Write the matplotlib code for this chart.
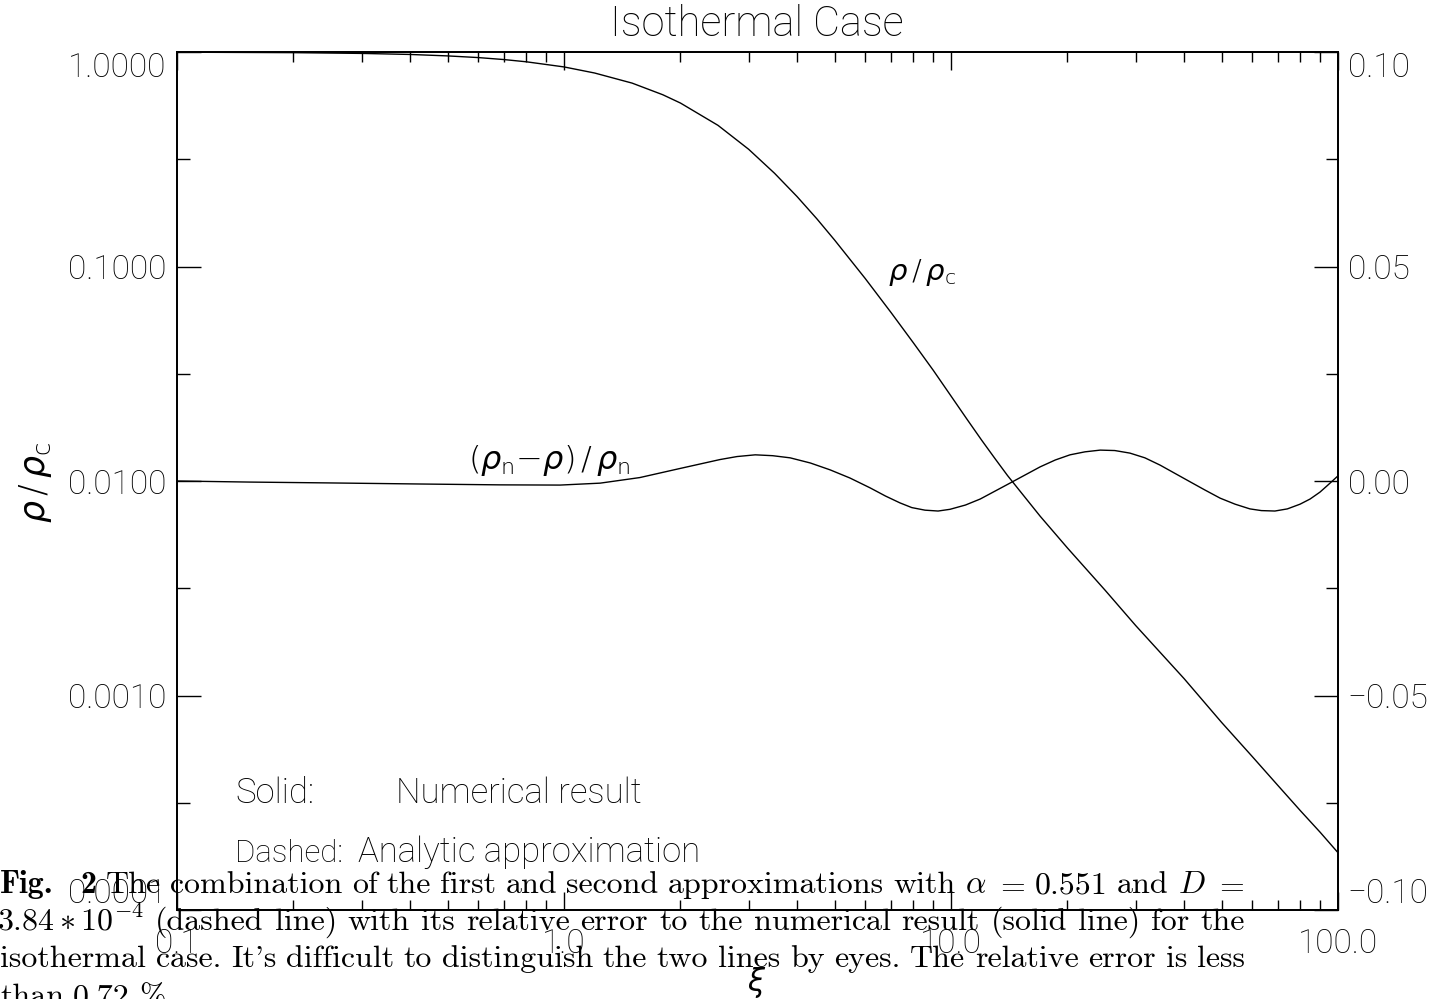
import numpy as np
import matplotlib
matplotlib.use('Agg')
import matplotlib.pyplot as plt
from matplotlib.ticker import FixedLocator, NullFormatter

# density profile rho/rho_c
xi_rho = [0.1, 0.2, 0.3, 0.4, 0.5, 0.6, 0.7, 0.8, 1.0, 1.2, 1.5, 1.8, 2.0, 2.5,
          3.0, 3.5, 4.0, 4.5, 5.0, 6.0, 7.0, 8.0, 9.0, 10.0, 11.0, 12.0, 13.0,
          14.0, 17.0, 20.0, 25.0, 30.0, 40.0, 50.0, 60.0, 70.0, 80.0, 90.0, 100.0]
rho = [0.998, 0.993, 0.985, 0.974, 0.959, 0.942, 0.922, 0.900, 0.852, 0.798,
       0.716, 0.632, 0.578, 0.455, 0.352, 0.272, 0.212, 0.167, 0.133, 0.088,
       0.061, 0.044, 0.0328, 0.0249, 0.0194, 0.0155, 0.0127, 0.0106, 0.00685,
       0.00487, 0.0031, 0.00212, 0.00120, 0.00075, 0.00052, 0.00038, 0.00029,
       0.00023, 0.000185]

# relative error (rho_n - rho)/rho_n, right axis
xi_err = [0.1, 0.154, 0.248, 0.425, 0.683, 0.977, 1.24, 1.57, 1.99, 2.53, 2.80,
          3.12, 3.46, 3.84, 4.33, 4.87, 5.48, 6.18, 6.77, 7.38, 7.92, 8.57, 9.26,
          9.94, 10.9, 11.9, 14.2, 17.0, 18.6, 20.3, 22.2, 24.3, 26.5, 29.0, 31.7,
          34.7, 41.5, 45.3, 49.6, 54.2, 59.2, 63.4, 68.7, 74.0, 79.8, 84.7, 89.8,
          93.5, 100.0]
err = [0.0, -0.00025, -0.00045, -0.0007, -0.0009, -0.00095, -0.0005, 0.0008,
       0.0029, 0.0050, 0.0057, 0.0061, 0.0059, 0.0054, 0.0042, 0.0026, 0.0007,
       -0.0016, -0.0035, -0.0051, -0.0062, -0.0068, -0.0070, -0.0066, -0.0056,
       -0.0042, -0.0005, 0.0033, 0.0049, 0.0061, 0.0068, 0.0072, 0.0071, 0.0065,
       0.0054, 0.0037, -0.0002, -0.0021, -0.0040, -0.0054, -0.0065, -0.0069,
       -0.0070, -0.0065, -0.0054, -0.0042, -0.0026, -0.0012, 0.0012]

xticks = [0.1, 1.0, 10.0, 100.0]
xtick_labels = ['0.1', '1.0', '10.0', '100.0']
yticks_left = [1e-4, 1e-3, 1e-2, 1e-1, 1.0]
ylabels_left = ['0.0001', '0.0010', '0.0100', '0.1000', '1.0000']
yticks_right = [-0.10, -0.05, 0.0, 0.05, 0.10]
ylabels_right = ['\u22120.10', '\u22120.05', '0.00', '0.05', '0.10']

caption = [
    ['Fig.', '2', 'The', 'combination', 'of', 'the', 'first', 'and', 'second',
     'approximations', 'with', r'$\alpha$', r'$=$', '0.551', 'and', r'$D$', r'$=$'],
    [r'$3.84\ast10^{-4}$', '(dashed', 'line)', 'with', 'its', 'relative', 'error',
     'to', 'the', 'numerical', 'result', '(solid', 'line)', 'for', 'the'],
    ['isothermal', 'case.', "It's", 'difficult', 'to', 'distinguish', 'the',
     'two', 'lines', 'by', 'eyes.', 'The', 'relative', 'error', 'is', 'less'],
    ['than', '0.72', '%.'],
]

plt.rcParams['font.family'] = ['Roboto', 'DejaVu Sans']
plt.rcParams['font.weight'] = 'light'

W, H = 1436, 999
fig = plt.figure(figsize=(W / 100, H / 100), dpi=100)
L, R, T, B = 177, 1338, 52, 910
ax = fig.add_axes([L / W, 1 - B / H, (R - L) / W, (B - T) / H])
ax2 = ax.twinx()

fs = 24
lw = 1.3

ax.plot(xi_rho, rho, '-', color='black', lw=1.0)
ax2.plot(xi_err, err, '-', color='black', lw=1.0)

ax.set_xscale('log')
ax.set_yscale('log')
ax.set_xlim(0.1, 100)
ax.set_ylim(1e-4, 1.0)
ax2.set_ylim(-0.10, 0.10)

ax.xaxis.set_major_locator(FixedLocator(xticks))
ax.set_xticklabels(xtick_labels)
ax.xaxis.set_minor_locator(FixedLocator([m * 10.0**e for e in (-1, 0, 1) for m in range(2, 10)]))
ax.xaxis.set_minor_formatter(NullFormatter())

ax.yaxis.set_major_locator(FixedLocator(yticks_left))
ax.set_yticklabels(ylabels_left)
ax.yaxis.set_minor_locator(FixedLocator([10.0**(-0.5 - k) for k in range(4)]))
ax.yaxis.set_minor_formatter(NullFormatter())

ax2.yaxis.set_major_locator(FixedLocator(yticks_right))
ax2.set_yticklabels(ylabels_right)
ax2.yaxis.set_minor_locator(FixedLocator([-0.075, -0.025, 0.025, 0.075]))

ax.tick_params(axis='x', which='both', direction='in', top=True, labelsize=fs, pad=13, width=1)
ax.tick_params(axis='x', which='major', length=13)
ax.tick_params(axis='x', which='minor', length=7)
ax.tick_params(axis='y', which='both', direction='in', labelsize=fs, pad=8, width=1)
ax.tick_params(axis='y', which='major', length=17)
ax.tick_params(axis='y', which='minor', length=9)
ax2.tick_params(axis='y', which='both', direction='in', labelsize=fs, pad=7, width=1)
ax2.tick_params(axis='y', which='major', length=17)
ax2.tick_params(axis='y', which='minor', length=9)
for a in (ax, ax2):
    for s in a.spines.values():
        s.set_linewidth(lw)

# end labels pushed inside the axis range like the original
ax.yaxis.get_major_ticks()[-1].label1.set_va('top')
ax.yaxis.get_major_ticks()[0].label1.set_va('bottom')
ax2.yaxis.get_major_ticks()[-1].label2.set_va('top')
ax2.yaxis.get_major_ticks()[0].label2.set_va('bottom')


def px(x, y):
    return x / W, 1 - y / H


fig.text(*px(757, 25), 'Isothermal Case', fontsize=30, ha='center', va='center')
fig.text(*px(35, 483), r'$\rho\,/\,\rho_{\mathrm{c}}$', fontsize=25, rotation=90,
         ha='center', va='center', math_fontfamily='dejavusans')
fig.text(*px(757, 983), r'$\xi$', fontsize=22, ha='center', va='center',
         math_fontfamily='dejavusans')
fig.text(*px(888, 273), r'$\rho\,/\,\rho_{\mathrm{c}}$', fontsize=21, ha='left',
         va='center', math_fontfamily='dejavusans')
fig.text(*px(468, 460), r'$(\rho_{\mathrm{n}}{-}\rho)\,/\,\rho_{\mathrm{n}}$', fontsize=23,
         ha='left', va='center', math_fontfamily='dejavusans')
fig.text(*px(235, 803), 'Solid:', fontsize=25, va='baseline')
fig.text(*px(396, 803), 'Numerical result', fontsize=25, va='baseline')
fig.text(*px(235, 862), 'Dashed:', fontsize=22.5, va='baseline')
fig.text(*px(358, 862), 'Analytic approximation', fontsize=25, va='baseline')

# justified caption laid over the bottom of the plot
cap_fs = 23
cap_serif = ['cmr10', 'DejaVu Serif']
renderer = fig.canvas.get_renderer()
baselines = [893, 930, 967, 1005]
for li, (words, yb) in enumerate(zip(caption, baselines)):
    objs = []
    for wi, w in enumerate(words):
        fam = ['cmb10', 'DejaVu Serif'] if (li == 0 and wi < 2) else cap_serif
        objs.append(fig.text(0, 1 - yb / H, w, family=fam, fontsize=cap_fs,
                             va='baseline', math_fontfamily='cm'))
    widths = [o.get_window_extent(renderer).width for o in objs]
    extra = [18 if (li == 0 and wi == 0) else 0 for wi in range(len(objs))]
    x0 = -3 if li == 1 else 0
    if li < 3:
        gap = (1245 - x0 - sum(widths) - sum(extra)) / (len(objs) - 1)
    else:
        gap = 9
    x = x0
    for o, wd, ex in zip(objs, widths, extra):
        o.set_x(x / W)
        x += wd + gap + ex

plt.savefig('out.png', dpi=100)
